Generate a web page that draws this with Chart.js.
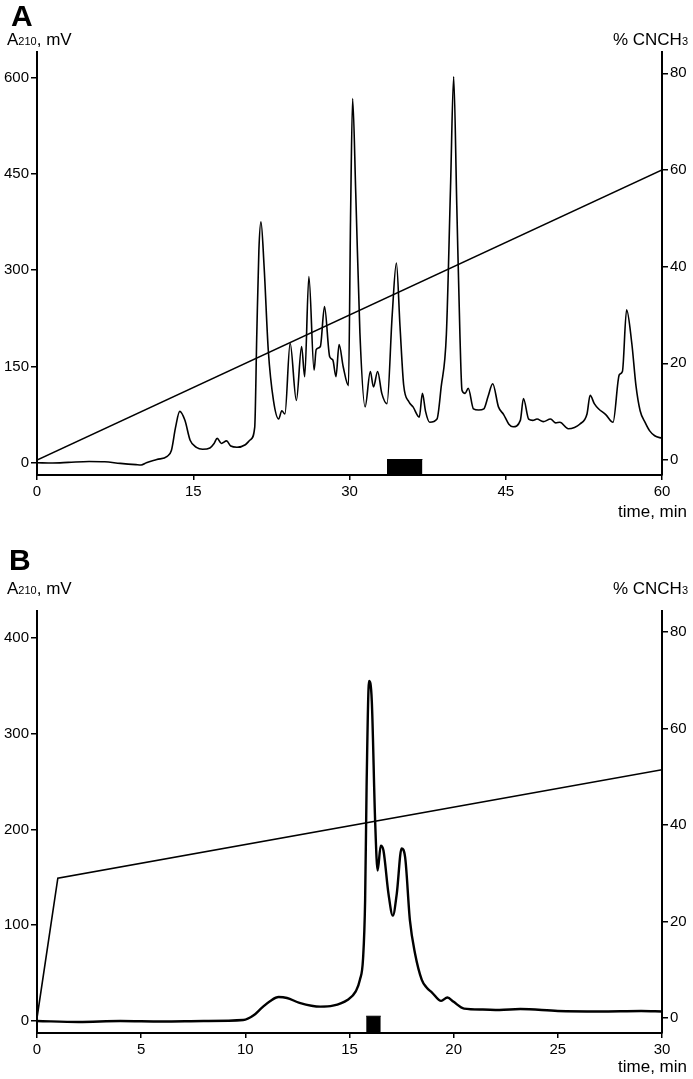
<!DOCTYPE html>
<html lang="en">
<head>
<meta charset="UTF-8">
<title>A210 chromatograms</title>
<script src="https://cdn.jsdelivr.net/npm/chart.js"></script>
<style>
    body { margin: 0; background: #fff; }
    .janela { position: relative; width: 693px; height: 1079px; font-family: 'Liberation Sans', Arial, sans-serif; color: #000; }
    .painel { position: absolute; left: 0; }
    .txt { position: absolute; font-size: 17px; line-height: 17px; white-space: nowrap; }
    .txt sub { font-size: 11px; vertical-align: baseline; }
    .letra { position: absolute; font-size: 30px; line-height: 30px; font-weight: bold; }
</style>
</head>
<body>
<div class="janela">
    <canvas id="chartA" class="painel" style="top:0" width="693" height="530"></canvas>
    <canvas id="chartB" class="painel" style="top:540px" width="693" height="539"></canvas>

    <div class="letra" style="left:11px; top:1px">A</div>
    <div class="txt" style="left:7px; top:31px">A<sub>210</sub>, mV</div>
    <div class="txt" style="right:5px; top:31px">% CNCH<sub>3</sub></div>
    <div class="txt" style="right:6px; top:503px">time, min</div>

    <div class="letra" style="left:9px; top:545px">B</div>
    <div class="txt" style="left:7px; top:580px">A<sub>210</sub>, mV</div>
    <div class="txt" style="right:5px; top:580px">% CNCH<sub>3</sub></div>
    <div class="txt" style="right:6px; top:1058px">time, min</div>
</div>

<script>
    //-- panel A: first run, 0-60 min --//
    var tempoA = [0, 1.5, 3, 5, 6.5, 8, 9.5, 10, 10.5, 11.5, 12.5, 12.9, 13.3, 13.7, 14.2, 14.7, 15.3, 15.9,
        16.6, 17.0, 17.3, 17.7, 18.2, 18.6, 19.2, 20.0, 20.5, 20.9, 21.1, 21.3, 21.5, 21.8, 22.2, 22.7, 23.2,
        23.5, 23.8, 24.3, 24.9, 25.4, 25.7, 26.1, 26.6, 26.8, 27.2, 27.6, 28.1, 28.4, 28.7, 29.0, 29.4, 29.9,
        30.1, 30.3, 30.6, 31.0, 31.5, 32.0, 32.3, 32.7, 33.1, 33.6, 34.1, 34.5, 34.85, 35.2, 35.7, 36.1, 36.7,
        37.0, 37.3, 37.7, 38.4, 38.8, 39.3, 39.7, 40.0, 40.3, 40.6, 40.8, 41.1, 41.4, 41.9, 42.4, 42.9, 43.3,
        43.75, 44.3, 44.8, 45.3, 45.7, 46.4, 46.7, 47.2, 47.6, 48.0, 48.6, 49.3, 49.8, 50.2, 51.0, 51.6, 52.1,
        52.8, 53.1, 53.5, 53.9, 54.6, 55.3, 55.9, 56.2, 56.6, 57.1, 57.5, 57.9, 58.4, 58.8, 59.3, 60]
    var sinalA = [0, -0.5, 0.5, 2, 1.5, -1, -3, -3.5, 0, 5, 10, 19, 55, 80, 66, 35, 24, 21,
        23, 30, 38, 30, 34, 26, 24, 28, 36, 55, 200, 330, 375, 306, 176, 97, 68,
        81, 76, 186, 97, 181, 134, 290, 144, 176, 181, 243, 165, 160, 134, 184, 149, 120,
        380, 567, 420, 202, 87, 142, 118, 142, 108, 92, 230, 311, 212, 121, 95, 87, 71,
        108, 80, 63, 68, 118, 200, 430, 601, 400, 200, 113, 108, 116, 84, 82, 84, 103,
        123, 87, 75, 60, 56, 66, 100, 68, 66, 68, 64, 68, 62, 63, 53, 55, 60,
        76, 105, 92, 84, 75, 63, 137, 142, 238, 186, 120, 81, 62, 50, 42, 38]
    var gradTempoA = [0, 60]
    var gradA = [0, 60]
    var fracaoA = [33.6, 37.0]

    //-- panel B: rechromatography, 0-30 min --//
    var tempoB = [0, 2, 4, 6, 8, 9.9, 10.4, 10.8, 11.2, 11.6, 12.0, 12.6, 13.6, 14.2, 14.9, 15.3, 15.5, 15.65,
        15.75, 15.82, 15.94, 16.07, 16.23, 16.35, 16.5, 16.63, 16.87, 17.08, 17.27, 17.5, 17.67, 17.9, 18.15,
        18.47, 18.7, 18.95, 19.4, 19.7, 20.0, 20.5, 21.4, 22.2, 23.2, 25, 27, 29, 30]
    var sinalB = [0, -1, 0, -0.5, 0, 1, 6, 14, 21, 25, 24, 19, 15, 16, 22, 31, 43, 65,
        126, 244, 355, 334, 209, 157, 183, 178, 133, 110, 133, 180, 171, 105, 70,
        43, 35, 30, 21, 24.6, 20, 13, 12, 11.5, 12.5, 10.5, 10, 10.5, 10]
    var gradTempoB = [0, 1, 30]
    var gradB = [0, 29, 51.5]
    var fracaoB = [15.8, 16.5]
    var fracaoTopo = 5

    var ticksXA = [0, 15, 30, 45, 60]
    var ticksYA = [0, 150, 300, 450, 600]
    var ticksXB = [0, 5, 10, 15, 20, 25, 30]
    var ticksYB = [0, 100, 200, 300, 400]
    var ticksPct = [0, 20, 40, 60, 80]

    function pontos(xs, ys) {
        return xs.map((x, i) => ({ x: x, y: ys[i] }))
    }

    var fonte = { family: "'Liberation Sans', Arial, sans-serif", size: 15 }

    function eixo(extra) {
        return Object.assign({
            ticks: { color: '#000', font: fonte, padding: 2 },
            grid: { display: true, drawOnChartArea: false, drawTicks: true, tickLength: 6, color: '#000', lineWidth: 1.5 },
            border: { display: true, color: '#000', width: 2 }
        }, extra)
    }

    function criarPainel(id, p) {
        return new Chart(document.getElementById(id), {
            type: 'line',
            data: {
                datasets: [{
                    data: pontos(p.tempo, p.sinal),
                    yAxisID: 'y',
                    borderColor: '#000',
                    borderWidth: p.espessura,
                    pointRadius: 0,
                    cubicInterpolationMode: 'monotone',
                    fill: false
                }, {
                    data: pontos(p.gradTempo, p.grad),
                    yAxisID: 'y2',
                    borderColor: '#000',
                    borderWidth: 1.6,
                    pointRadius: 0,
                    fill: false
                }, {
                    data: pontos(p.fracao, [fracaoTopo, fracaoTopo]),
                    yAxisID: 'y',
                    borderColor: '#000',
                    borderWidth: 1,
                    backgroundColor: '#000',
                    pointRadius: 0,
                    fill: 'start'
                }]
            },
            options: {
                responsive: false,
                animation: false,
                devicePixelRatio: 1,
                layout: { padding: { top: p.topo, left: 0, right: 0, bottom: 0 } },
                plugins: { legend: { display: false }, tooltip: { enabled: false } },
                scales: {
                    x: eixo({
                        type: 'linear', position: 'bottom', min: 0, max: p.xMax,
                        afterBuildTicks: s => { s.ticks = p.ticksX.map(v => ({ value: v })) },
                        afterFit: s => { s.height = p.alturaX },
                        ticks: { color: '#000', font: fonte, padding: 3, maxRotation: 0 },
                        grid: { display: true, drawOnChartArea: false, tickLength: 5, color: '#000', lineWidth: 1.5 }
                    }),
                    y: eixo({
                        type: 'linear', position: 'left', min: p.yMin, max: p.yMax,
                        afterBuildTicks: s => { s.ticks = p.ticksY.map(v => ({ value: v })) },
                        afterFit: s => { s.width = 37 }
                    }),
                    y2: eixo({
                        type: 'linear', position: 'right', min: -3.1, max: 84.4,
                        afterBuildTicks: s => { s.ticks = ticksPct.map(v => ({ value: v })) },
                        afterFit: s => { s.width = 31 }
                    })
                }
            }
        })
    }

    criarPainel('chartA', {
        tempo: tempoA, sinal: sinalA, gradTempo: gradTempoA, grad: gradA, fracao: fracaoA,
        ticksX: ticksXA, ticksY: ticksYA, xMax: 60, yMin: -19.1, yMax: 639.5,
        topo: 52, alturaX: 55, espessura: 1.6
    })

    criarPainel('chartB', {
        tempo: tempoB, sinal: sinalB, gradTempo: gradTempoB, grad: gradB, fracao: fracaoB,
        ticksX: ticksXB, ticksY: ticksYB, xMax: 30, yMin: -12.5, yMax: 427.9,
        topo: 71, alturaX: 46, espessura: 2.4
    })
</script>
</body>
</html>
